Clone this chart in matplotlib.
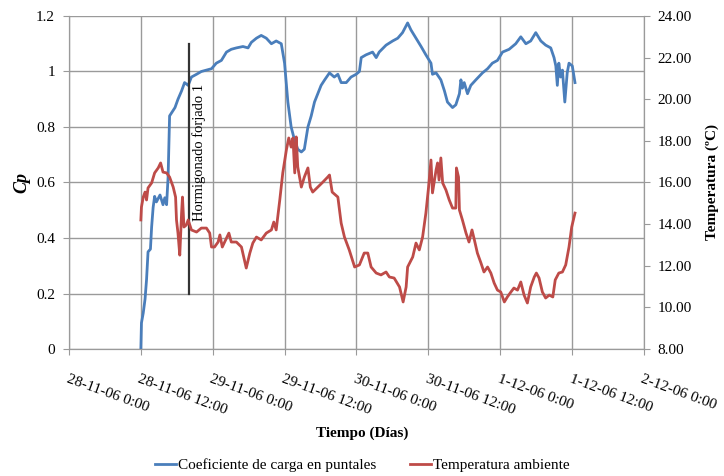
import matplotlib
matplotlib.use("Agg")
import matplotlib.pyplot as plt
from matplotlib.lines import Line2D

# Horas desde 28-11-06 0:00
horas_cp = [12.0, 12.1, 12.4, 12.7, 12.95, 13.2, 13.6, 13.8, 14.05, 14.3, 14.6, 15.2, 15.7, 16.0,
            16.3, 16.55, 16.8, 17.1, 17.7, 18.2, 18.8, 19.3, 19.9, 20.45, 21.3, 22.1, 22.95, 23.8,
            24.6, 25.45, 26.3, 27.1, 27.95, 29.05, 29.9, 30.45, 31.3, 32.1, 32.95, 33.8, 34.6,
            35.45, 36.0, 36.55, 37.1, 37.7, 38.2, 38.8, 39.3, 39.9, 40.45, 41.0, 41.55, 42.1,
            42.7, 43.5, 44.3, 44.9, 45.45, 46.3, 47.1, 47.95, 48.5, 48.8, 49.6, 50.7, 51.3, 51.8,
            52.95, 54.05, 54.9, 55.7, 56.55, 57.1, 57.95, 58.8, 59.6, 60.45, 60.7, 61.3, 62.1,
            62.7, 63.2, 64.05, 64.6, 65.2, 65.45, 65.7, 66.0, 66.55, 67.1, 67.95, 69.05, 69.9,
            70.7, 71.55, 72.4, 73.5, 74.6, 75.45, 76.3, 77.1, 77.95, 78.8, 79.6, 80.45, 81.0,
            81.3, 81.55, 81.8, 82.1, 82.4, 82.8, 83.2, 83.5, 84.05, 84.5]
cp = [0.00, 0.094, 0.13, 0.18, 0.25, 0.35, 0.36, 0.44, 0.51, 0.55, 0.53, 0.555, 0.52, 0.545,
      0.52, 0.62, 0.84, 0.85, 0.87, 0.90, 0.93, 0.96, 0.95, 0.98, 0.99, 1.00, 1.005, 1.01,
      1.03, 1.04, 1.07, 1.08, 1.085, 1.09, 1.085, 1.105, 1.12, 1.13, 1.12, 1.10, 1.11,
      1.10, 1.03, 0.89, 0.80, 0.75, 0.72, 0.71, 0.72, 0.80, 0.84, 0.89, 0.92, 0.95,
      0.97, 0.995, 0.98, 0.99, 0.96, 0.96, 0.98, 0.99, 1.00, 1.05, 1.06, 1.07, 1.05, 1.07,
      1.095, 1.11, 1.12, 1.14, 1.175, 1.15, 1.12, 1.09, 1.06, 1.03, 0.99, 0.995, 0.97,
      0.93, 0.89, 0.87, 0.88, 0.92, 0.97, 0.94, 0.96, 0.92, 0.95, 0.97, 0.995, 1.01,
      1.03, 1.04, 1.07, 1.08, 1.10, 1.125, 1.10, 1.11, 1.14, 1.11, 1.095, 1.085, 1.05,
      1.02, 0.95, 1.03, 0.98, 1.005, 0.89, 0.995, 1.03, 1.02, 0.96]

horas_temp = [12.0, 12.1, 12.4, 12.7, 12.95, 13.2, 13.8, 14.3, 14.9, 15.3, 15.7, 16.3, 16.8,
              17.4, 17.8, 17.95, 18.2, 18.5, 18.8, 18.95, 19.2, 19.6, 19.9, 20.45, 21.3, 22.1,
              22.95, 23.5, 23.8, 24.3, 24.9, 25.2, 25.6, 26.3, 26.7, 27.1, 27.95, 28.8, 29.3,
              29.6, 30.2, 30.7, 31.3, 32.1, 32.95, 33.8, 34.2, 34.6, 35.2, 35.7, 36.3, 36.7,
              37.1, 37.4, 37.7, 37.95, 38.2, 38.8, 39.3, 39.9, 40.3, 40.7, 41.55, 42.4, 43.2,
              43.5, 43.95, 44.9, 45.45, 46.0, 46.8, 47.7, 48.5, 49.3, 49.9, 50.45, 51.3, 52.1,
              52.95, 53.5, 54.3, 55.2, 55.8, 56.3, 56.55, 57.4, 57.95, 58.5, 59.05, 59.6, 60.05,
              60.45, 60.7, 61.3, 61.55, 61.8, 62.1, 62.4, 62.95, 63.5, 64.05, 64.6, 64.7, 65.05,
              65.2, 65.7, 66.3, 66.8, 67.3, 67.7, 68.2, 68.8, 69.3, 69.9, 70.45, 71.0, 71.55,
              72.1, 72.7, 73.2, 73.8, 74.3, 74.9, 75.45, 76.0, 76.55, 77.1, 77.7, 78.05, 78.5,
              79.05, 79.6, 80.2, 80.8, 81.2, 81.8, 82.4, 82.95, 83.5, 83.95, 84.5]
temp = [14.2, 14.82, 15.3, 15.54, 15.16, 15.74, 15.98, 16.46, 16.7, 16.94, 16.5, 16.46, 16.26,
        15.78, 15.3, 14.2, 13.57, 12.51, 14.53, 15.3, 13.86, 13.96, 14.2, 13.72, 13.62, 13.81,
        13.81, 13.57, 12.9, 12.9, 13.14, 13.48, 12.9, 13.33, 13.57, 13.14, 13.14, 12.9, 12.28,
        11.89, 12.61, 13.09, 13.38, 13.24, 13.57, 13.72, 14.1, 13.72, 15.16, 16.46, 17.56, 18.14,
        17.7, 18.14, 16.46, 18.19, 16.75, 15.78, 16.26, 16.7, 15.78, 15.54, 15.78, 16.02, 16.26,
        16.36, 15.54, 15.3, 14.05, 13.38, 12.76, 11.94, 12.04, 12.61, 12.61, 11.94, 11.65, 11.56,
        11.7, 11.46, 11.41, 10.98, 10.26, 10.98, 11.94, 12.42, 13.09, 12.76, 13.38, 14.53, 15.78,
        17.08, 15.5, 16.6, 16.94, 16.12, 17.18, 15.98, 15.64, 15.16, 14.77, 14.77, 16.7, 16.26,
        14.68, 14.2, 13.57, 13.14, 13.72, 13.24, 12.61, 12.13, 11.7, 11.94, 11.65, 11.17, 10.83,
        10.74, 10.26, 10.5, 10.74, 10.93, 10.83, 11.22, 10.59, 10.21, 10.98, 11.46, 11.65, 11.41,
        10.74, 10.45, 10.59, 10.5, 11.32, 11.65, 11.7, 12.04, 12.9, 13.86, 14.53]

ticks_horas = [0, 12, 24, 36, 48, 60, 72, 84, 96]
etiquetas_x = ["28-11-06 0:00", "28-11-06 12:00", "29-11-06 0:00", "29-11-06 12:00",
               "30-11-06 0:00", "30-11-06 12:00", "1-12-06 0:00", "1-12-06 12:00",
               "2-12-06 0:00"]

hora_hormigonado = 20.0

AZUL = "#4A7EBB"
ROJO = "#BE4B48"
GRIS = "#9a9a9a"

plt.rcParams["font.family"] = ["Liberation Serif", "DejaVu Serif"]
plt.rcParams["font.size"] = 11

fig = plt.figure(figsize=(7.24, 4.76), dpi=100)
ax = fig.add_axes([0.0953, 0.2668, 0.794, 0.6996])
ax2 = ax.twinx()

ax.plot(horas_cp, cp, color=AZUL, lw=2.0, zorder=3)
ax2.plot(horas_temp, temp, color=ROJO, lw=2.0, zorder=3)

# linea del hormigonado
ax.plot([hora_hormigonado, hora_hormigonado], [0.2, 1.1], color="#333333", lw=1.6, zorder=4)
ax.text(hora_hormigonado + 1.75, 0.955, "Hormigonado forjado 1", rotation=90,
        ha="center", va="top", fontsize=10.5, zorder=5)

ax.set_xlim(0, 96)
ax.set_ylim(0, 1.2)
ax.set_yticks([0, 0.2, 0.4, 0.6, 0.8, 1.0, 1.2])
ax.set_yticklabels(["0", "0.2", "0.4", "0.6", "0.8", "1", "1.2"])
ax2.set_ylim(8, 24)
ax2.set_yticks(range(8, 25, 2))
ax2.set_yticklabels([f"{v:.2f}" for v in range(8, 25, 2)])

ax.set_xticks(ticks_horas)
ax.set_xticklabels(etiquetas_x, rotation=-20, ha="left", rotation_mode="anchor")
ax.tick_params(axis="x", pad=13, length=4, color=GRIS)
ax.tick_params(axis="y", length=4, color=GRIS, pad=6)
ax2.tick_params(axis="y", length=4, color=GRIS, pad=6)

ax.grid(True, color=GRIS, lw=1.0)
ax.set_axisbelow(True)
for a in (ax, ax2):
    a.spines["top"].set_visible(False)
    for s in ("left", "right", "bottom"):
        a.spines[s].set_color(GRIS)

ax.set_ylabel("Cp", fontweight="bold", fontstyle="italic", fontsize=13, labelpad=4)
ax2.set_ylabel("Temperatura (ºC)", fontweight="bold", labelpad=10)
fig.text(0.5, 0.09, "Tiempo (Días)", ha="center", va="center", fontweight="bold")

handles = [Line2D([], [], color=AZUL, lw=2), Line2D([], [], color=ROJO, lw=2)]
fig.legend(handles, ["Coeficiente de carga en puntales", "Temperatura ambiente"],
           loc="center", bbox_to_anchor=(0.5, 0.023), ncol=2, frameon=False,
           handlelength=1.4, handletextpad=0.1, columnspacing=2.2)

fig.savefig("out.png", dpi=100)
